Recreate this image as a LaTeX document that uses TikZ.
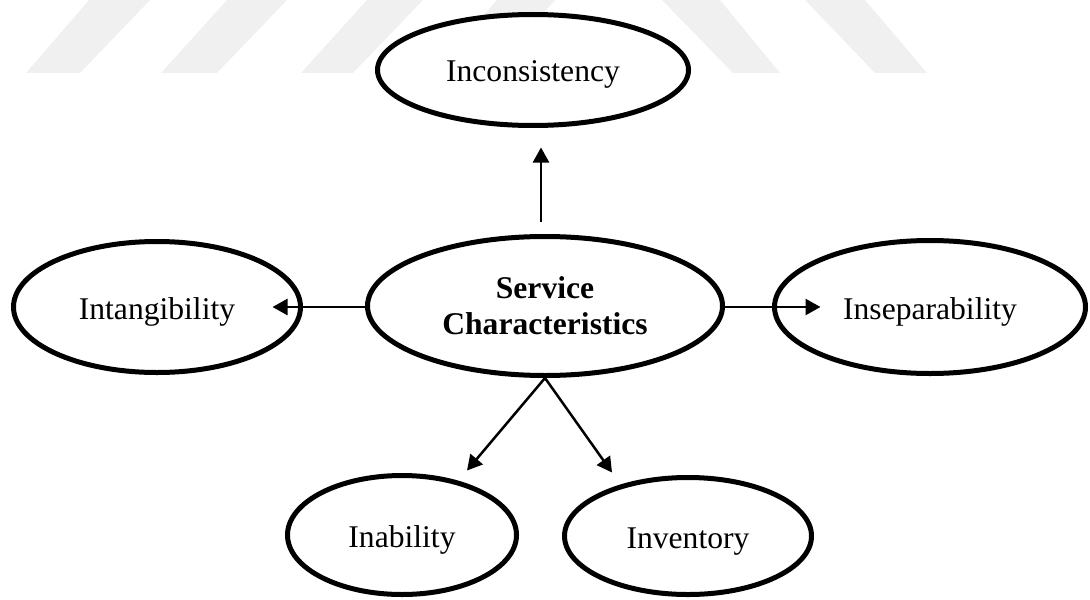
\documentclass[tikz,border=0pt]{standalone}
\usepackage{fontspec}
\setmainfont{Liberation Serif}
\usetikzlibrary{arrows.meta,shapes.geometric}

\tikzset{
  trait/.style={ellipse, draw=black, line width=2.5pt, fill=white, inner sep=0pt,
                font=\fontsize{15.8}{18}\selectfont, align=center},
  oneline/.style={text height=12pt, text depth=0pt},
  arr/.style={line width=1.25pt, -{Triangle[length=7.5pt, width=8pt]}},
  stripe/.style={fill=black!6, draw=none}
}

\begin{document}
\begin{tikzpicture}[x=0.5pt, y=-0.5pt]
  \useasboundingbox (0,0) rectangle (1090,599);

  % light striped band along the top edge
  \fill[stripe] (26,73) -- (80,73) -- (150,0) -- (89,0) -- cycle;
  \fill[stripe] (161,73) -- (217,73) -- (287,0) -- (227,0) -- cycle;
  \fill[stripe] (301,73) -- (353,73) -- (423,0) -- (367,0) -- cycle;
  \fill[stripe] (432,73) -- (490,73) -- (555,0) -- (497,0) -- cycle;
  \fill[stripe] (662,0) -- (720,0) -- (780,73) -- (733,73) -- cycle;
  \fill[stripe] (805,0) -- (865,0) -- (927,73) -- (875,73) -- cycle;

  % characteristics
  \node[trait, minimum width=177.5pt, minimum height=69.5pt] (sc) at (545,306)
       {\textbf{Service}\\\textbf{Characteristics}};
  \node[trait, oneline, minimum width=155.5pt, minimum height=55.5pt] (inc) at (533,70) {Inconsistency};
  \node[trait, oneline, minimum width=143.5pt, minimum height=65.5pt] (intang) at (157,307) {Intangibility};
  \node[trait, oneline, minimum width=155.5pt, minimum height=66.5pt] (insep) at (930,307) {Inseparability};
  \node[trait, oneline, minimum width=114.5pt, minimum height=59.5pt] (inab) at (402,535) {Inability};
  \node[trait, oneline, minimum width=123.5pt, minimum height=58.5pt] (inv) at (688,536) {Inventory};

  % connectors
  \draw[arr] ([shift={(-4,-12.5)}]sc.north) -- ([shift={(8,19.5)}]inc.south);
  \draw[arr] (sc.west |- intang.east) -- ([shift={(-30.5,0)}]intang.east);
  \draw[arr] (sc.east |- insep.west) -- ([shift={(48.5,0)}]insep.west);
  \draw[arr] (sc.south) -- ([shift={(65,-2.5)}]inab.north);
  \draw[arr] (sc.south) -- ([shift={(-76,-2.5)}]inv.north);
\end{tikzpicture}
\end{document}
